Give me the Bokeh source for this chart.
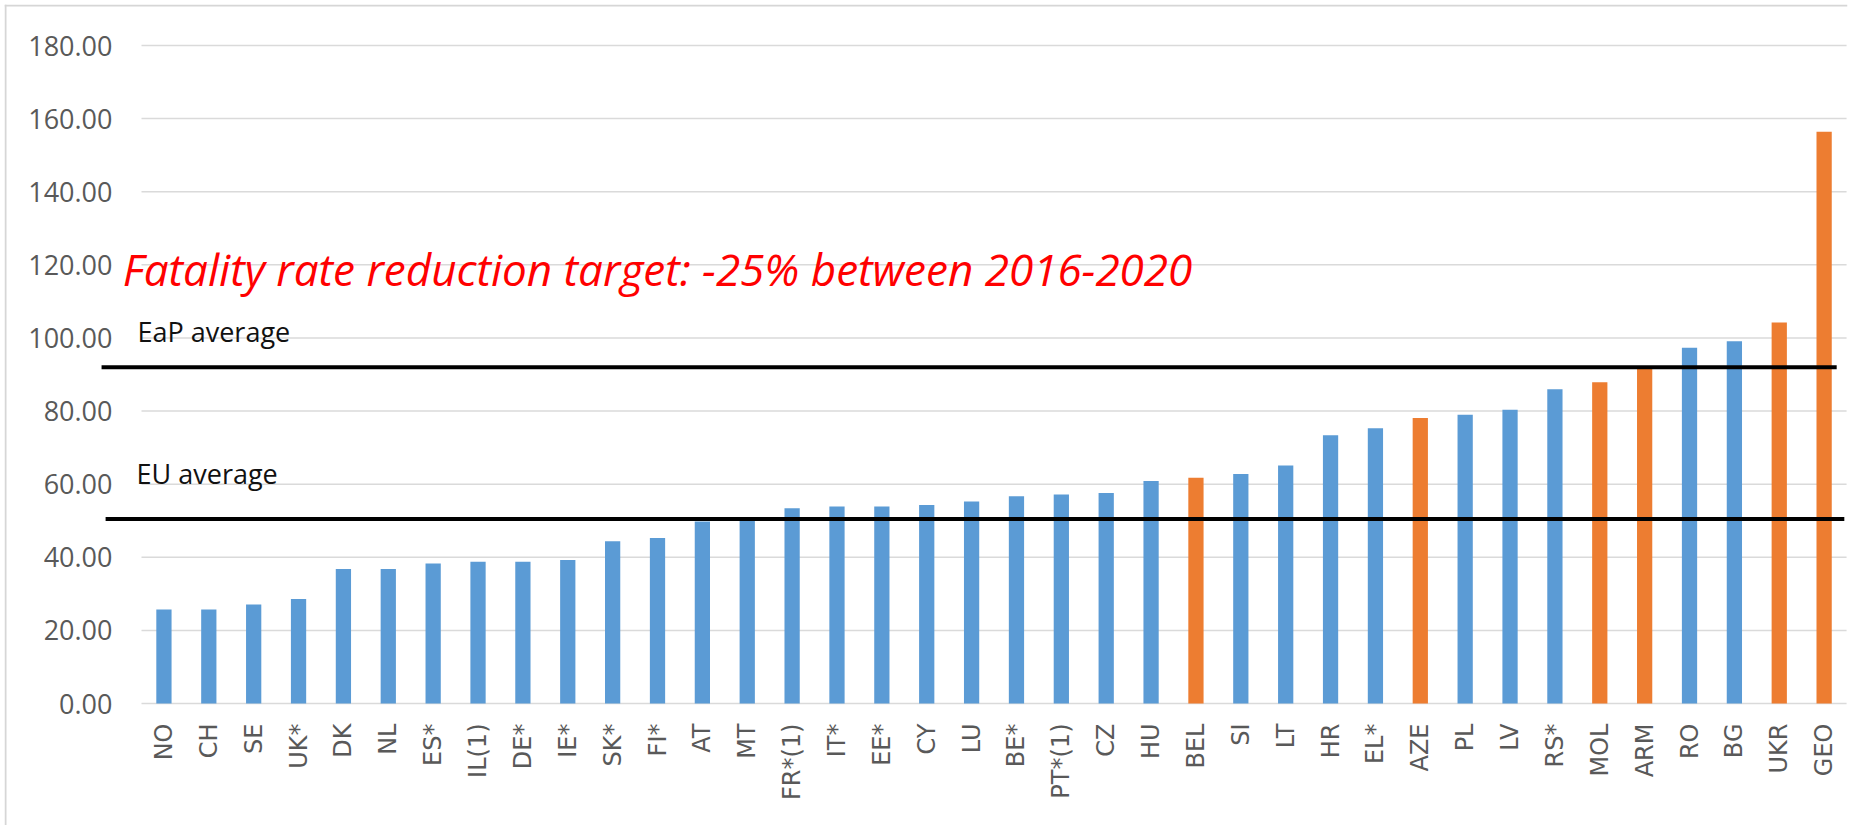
import math
from bokeh.plotting import figure
from bokeh.models import Range1d, FixedTicker, PrintfTickFormatter, ColumnDataSource
from bokeh.core.properties import value
from bokeh.embed import file_html
from bokeh.resources import INLINE

# ---- data ----
categories = ["NO", "CH", "SE", "UK*", "DK", "NL", "ES*", "IL(1)", "DE*", "IE*",
              "SK*", "FI*", "AT", "MT", "FR*(1)", "IT*", "EE*", "CY", "LU", "BE*",
              "PT*(1)", "CZ", "HU", "BEL", "SI", "LT", "HR", "EL*", "AZE", "PL",
              "LV", "RS*", "MOL", "ARM", "RO", "BG", "UKR", "GEO"]
fatality_rates = [25.7, 25.7, 27.1, 28.6, 36.8, 36.8, 38.3, 38.8, 38.8, 39.3,
                  44.4, 45.3, 49.8, 50.0, 53.4, 53.9, 53.9, 54.3, 55.3, 56.7,
                  57.2, 57.6, 60.9, 61.8, 62.8, 65.1, 73.4, 75.3, 78.1, 79.0,
                  80.4, 86.0, 87.9, 91.5, 97.3, 99.1, 104.2, 156.4]
eap_countries = ["BEL", "AZE", "MOL", "ARM", "UKR", "GEO"]
y_ticks = [0, 20, 40, 60, 80, 100, 120, 140, 160, 180]
eu_average = 50.5
eap_average = 92.0
target_text = "Fatality rate reduction target: -25% between 2016-2020"
eap_label = "EaP average"
eu_label = "EU average"

BLUE = "#5B9BD5"
ORANGE = "#ED7D31"
n = len(categories)
xs = list(range(n))
colors = [ORANGE if c in eap_countries else BLUE for c in categories]
src = ColumnDataSource(dict(x=xs, top=fatality_rates, color=colors, cat=categories))

# frame covers (4,4)-(1847,825); category -0.5 sits at x=141, value 0 at y=703
XS, YS = 44.87, 3.656
x0r = -0.5 - 137 / XS
x1r = x0r + 1843 / XS
y1r = 180 + 41 / YS
y0r = y1r - 821 / YS

p = figure(width=1868, height=825, output_backend="svg", toolbar_location=None,
           x_range=Range1d(x0r, x1r), y_range=Range1d(y0r, y1r),
           min_border_left=4, min_border_right=21, min_border_top=4, min_border_bottom=0)
p.outline_line_color = None
p.background_fill_color = "white"
p.border_fill_color = "white"
p.xgrid.visible = False
p.ygrid.visible = False

# chart-area border (top and left)
p.segment(x0=[x0r + 1 / XS], x1=[x0r + 1 / XS], y0=[y0r], y1=[y1r], line_color="#D6D6D6", line_width=2)
p.segment(x0=[x0r], x1=[x1r], y0=[y1r - 1 / YS], y1=[y1r - 1 / YS], line_color="#D6D6D6", line_width=2)

# gridlines restricted to the category span
p.segment(x0=-0.5, x1=n - 0.5, y0=y_ticks, y1=y_ticks, line_color="#DADADA", line_width=1.5)

p.vbar(x="x", bottom=0, top="top", width=0.34, fill_color="color", line_color=None, source=src)

# average lines
p.segment(x0=[-1.39], x1=[n - 0.72], y0=[eap_average], y1=[eap_average], line_color="black", line_width=4)
p.segment(x0=[-1.30], x1=[n - 0.55], y0=[eu_average], y1=[eu_average], line_color="black", line_width=4)

p.text(x=[-0.92], y=[119.0], text=[target_text], text_color="#FF0000",
       text_font=value("Open Sans"), text_font_style="italic", text_font_size="44px",
       text_baseline="alphabetic", text_align="left")
p.text(x=[-0.59], y=[101.8], text=[eap_label], text_color="#111111",
       text_font=value("Open Sans"), text_font_size="27px",
       text_baseline="alphabetic", text_align="left")
p.text(x=[-0.61], y=[62.9], text=[eu_label], text_color="#111111",
       text_font=value("Open Sans"), text_font_size="27px",
       text_baseline="alphabetic", text_align="left")

# axes
p.yaxis.ticker = FixedTicker(ticks=y_ticks)
p.yaxis.formatter = PrintfTickFormatter(format="%.2f")
p.yaxis.axis_line_color = None
p.yaxis.major_tick_line_color = None
p.yaxis.minor_tick_line_color = None
p.yaxis.major_tick_out = 0
p.yaxis.major_tick_in = 0
p.yaxis.major_label_standoff = -108
p.yaxis.major_label_text_font = "Open Sans"
p.yaxis.major_label_text_font_size = "27px"
p.yaxis.major_label_text_color = "#595959"

p.xaxis.ticker = FixedTicker(ticks=xs)
p.xaxis.major_label_overrides = {i: c for i, c in enumerate(categories)}
p.xaxis.major_label_orientation = math.pi / 2
p.xaxis.axis_line_color = None
p.xaxis.major_tick_line_color = None
p.xaxis.minor_tick_line_color = None
p.xaxis.major_tick_out = 0
p.xaxis.major_tick_in = 0
p.xaxis.major_label_standoff = -102
p.xaxis.major_label_text_font = "DejaVu Sans"
p.xaxis.major_label_text_font_size = "24px"
p.xaxis.major_label_text_color = "#595959"

open("out.html", "w").write(file_html(p, INLINE))
